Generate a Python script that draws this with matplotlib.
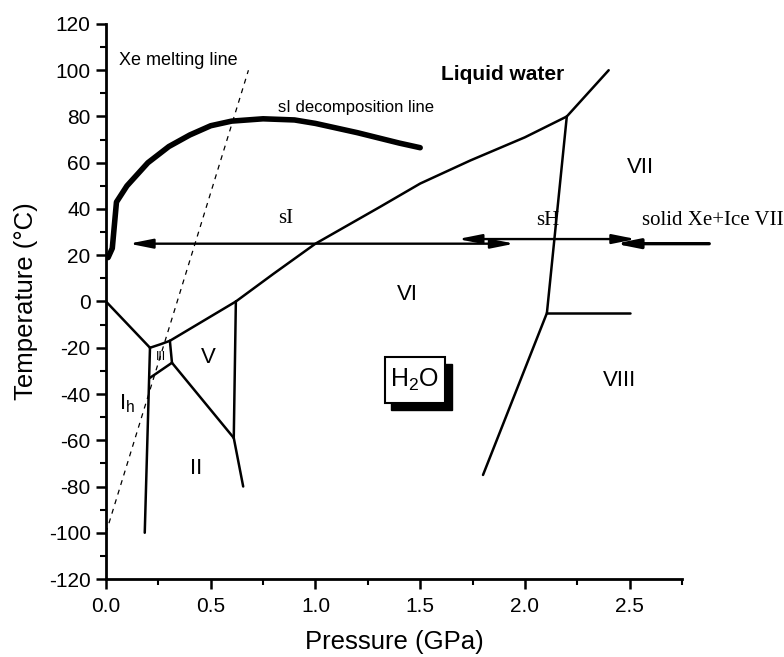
import matplotlib
matplotlib.use("Agg")
import matplotlib.pyplot as plt
from matplotlib.patches import Rectangle
from matplotlib.ticker import MultipleLocator

plt.rcParams["axes.unicode_minus"] = False

SANS = "Liberation Sans"
SERIF = "Liberation Serif"

# ---- data (pressure in GPa, temperature in deg C) ----
x_ticks = [0.0, 0.5, 1.0, 1.5, 2.0, 2.5]
x_tick_labels = ["0.0", "0.5", "1.0", "1.5", "2.0", "2.5"]
y_ticks = [-120, -100, -80, -60, -40, -20, 0, 20, 40, 60, 80, 100, 120]

# sI hydrate decomposition curve
si_p = [0.01, 0.03, 0.05, 0.1, 0.2, 0.3, 0.4, 0.5, 0.6, 0.75, 0.9, 1.0, 1.2, 1.4, 1.5]
si_t = [19, 23, 43, 50, 60, 67, 72, 76, 78, 79, 78.5, 77, 73, 68.5, 66.5]

# Xe melting line
xe_p = [0.0, 0.68]
xe_t = [-100, 100]

# ice phase boundaries
ih_liq_p, ih_liq_t = [0.0, 0.21], [0, -20]
ih_hp_p, ih_hp_t = [0.21, 0.185], [-20, -100]
iii_liq_p, iii_liq_t = [0.21, 0.26, 0.305], [-20, -18.5, -17]
iii_v_p, iii_v_t = [0.305, 0.315], [-17, -26.5]
iii_ii_p, iii_ii_t = [0.21, 0.315], [-33, -26.5]
v_liq_p, v_liq_t = [0.305, 0.62], [-17, 0]
v_vi_p, v_vi_t = [0.62, 0.61], [0, -59]
ii_v_p, ii_v_t = [0.315, 0.61], [-26.5, -59]
ii_vi_p, ii_vi_t = [0.61, 0.655], [-59, -80]
vi_liq_p = [0.62, 0.8, 1.0, 1.31, 1.5, 1.74, 2.0, 2.2]
vi_liq_t = [0, 12, 25, 41, 51, 61, 71, 80]
vii_liq_p, vii_liq_t = [2.2, 2.4], [80, 100]
vi_vii_p, vi_vii_t = [2.2, 2.105], [80, -5]
vii_viii_p, vii_viii_t = [2.105, 2.5], [-5, -5]
vi_viii_p, vi_viii_t = [2.105, 1.8], [-5, -75]

# hydrate stability ranges at 25 deg C
si_range = (0.11, 1.95, 25)
sh_range = (1.68, 2.53, 27)
xe_vii_range = (2.43, 2.88, 25)

# region labels: (text, p, t, size)
regions = [
    ("VII", 2.55, 58, 16),
    ("VI", 1.44, 3, 16),
    ("V", 0.49, -24, 16),
    ("II", 0.43, -72, 16),
    ("VIII", 2.45, -34, 16),
    ("III", 0.26, -24, 9),
    ("I$_\\mathregular{h}$", 0.10, -44, 16),
]

fig = plt.figure(figsize=(7.84, 6.57), dpi=100)
ax = fig.add_axes([0.1352, 0.1187, 0.8699 - 0.1352, 0.9635 - 0.1187])

ax.set_xlim(0, 2.75)
ax.set_ylim(-120, 120)

lw_phase = 1.8
for p, t in [(ih_liq_p, ih_liq_t), (ih_hp_p, ih_hp_t), (iii_liq_p, iii_liq_t),
             (iii_v_p, iii_v_t), (iii_ii_p, iii_ii_t), (v_liq_p, v_liq_t),
             (v_vi_p, v_vi_t), (ii_v_p, ii_v_t), (ii_vi_p, ii_vi_t),
             (vi_liq_p, vi_liq_t), (vii_liq_p, vii_liq_t), (vi_vii_p, vi_vii_t),
             (vii_viii_p, vii_viii_t), (vi_viii_p, vi_viii_t)]:
    ax.plot(p, t, color="black", lw=lw_phase, solid_capstyle="round")

ax.plot(si_p, si_t, color="black", lw=4, solid_capstyle="round", solid_joinstyle="round")
ax.plot(xe_p, xe_t, color="black", lw=0.9, dashes=(4, 4))

# stability range arrows
head = "<|-|>,head_length=0.7,head_width=0.14"
for (p0, p1, t) in [si_range, sh_range]:
    ax.annotate("", xy=(p1, t), xytext=(p0, t), annotation_clip=False,
                arrowprops=dict(arrowstyle=head, lw=1.7, color="black",
                                shrinkA=0, shrinkB=0, mutation_scale=20))
p0, p1, t = xe_vii_range
ax.annotate("", xy=(p0, t), xytext=(p1, t), annotation_clip=False,
            arrowprops=dict(arrowstyle="-|>,head_length=0.7,head_width=0.14", lw=2.4,
                            color="black", shrinkA=0, shrinkB=0, mutation_scale=20))

# text annotations
ax.text(0.06, 104, "Xe melting line", fontfamily=SANS, fontsize=13, va="center", ha="left")
ax.text(0.82, 84, "sI decomposition line", fontfamily=SANS, fontsize=12, va="center", ha="left")
ax.text(1.60, 98, "Liquid water", fontfamily=SANS, fontsize=15, fontweight="bold",
        va="center", ha="left")
ax.text(0.86, 36, "sI", fontfamily=SERIF, fontsize=15, va="center", ha="center")
ax.text(2.11, 35, "sH", fontfamily=SERIF, fontsize=15, va="center", ha="center")
ax.text(2.56, 35, "solid Xe+Ice VII", fontfamily=SERIF, fontsize=15, va="center",
        ha="left", clip_on=False)

for txt, p, t, s in regions:
    ax.text(p, t, txt, fontfamily=SANS, fontsize=s, va="center", ha="center")

# H2O box with drop shadow
bx0, bx1, by0, by1 = 1.33, 1.62, -44, -24
ax.add_patch(Rectangle((bx0 + 0.03, by0 - 3), bx1 - bx0, by1 - by0,
                       facecolor="black", edgecolor="black", zorder=3))
ax.add_patch(Rectangle((bx0, by0), bx1 - bx0, by1 - by0,
                       facecolor="white", edgecolor="black", lw=1.5, zorder=4))
ax.text((bx0 + bx1) / 2, (by0 + by1) / 2, "H$_\\mathregular{2}$O", fontfamily=SANS,
        fontsize=18, va="center", ha="center", zorder=5)

# axes styling
for side in ("top", "right"):
    ax.spines[side].set_visible(False)
for side in ("left", "bottom"):
    ax.spines[side].set_linewidth(2.0)

ax.set_xticks(x_ticks)
ax.set_xticklabels(x_tick_labels)
ax.set_yticks(y_ticks)
ax.xaxis.set_minor_locator(MultipleLocator(0.25))
ax.yaxis.set_minor_locator(MultipleLocator(10))
ax.tick_params(which="major", direction="out", length=7, width=1.8, labelsize=15)
ax.tick_params(which="minor", direction="out", length=4, width=1.5)
ax.tick_params(axis="x", pad=6)
ax.tick_params(axis="y", pad=4)
for lab in ax.get_xticklabels() + ax.get_yticklabels():
    lab.set_fontfamily(SANS)

ax.set_xlabel("Pressure (GPa)", fontfamily=SANS, fontsize=18.5, labelpad=10)
ax.set_ylabel("Temperature (\u00b0C)", fontfamily=SANS, fontsize=18.5, labelpad=8)

fig.savefig("out.png", dpi=100)
